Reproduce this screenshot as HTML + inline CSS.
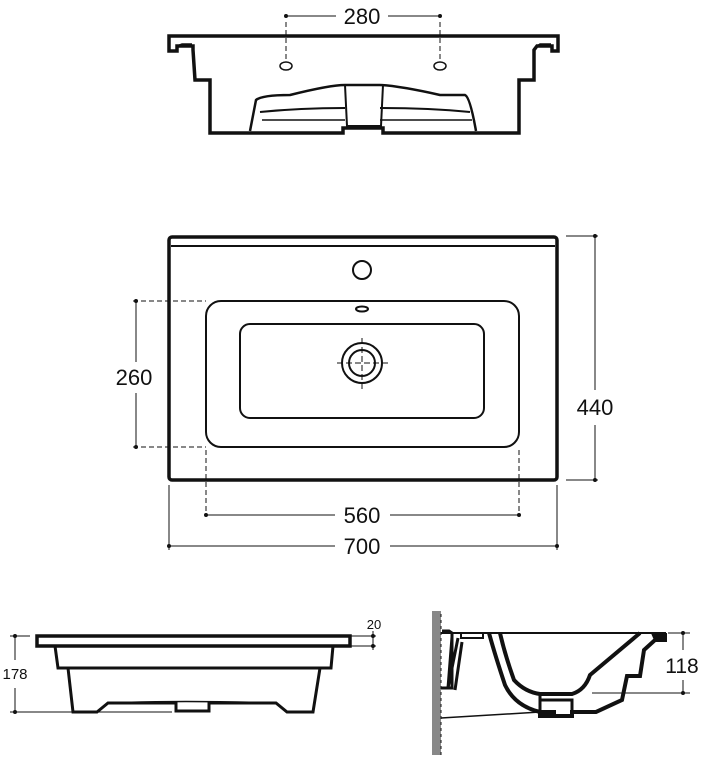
<!DOCTYPE html>
<html><head><style>
body{margin:0;background:#fff;}
svg{display:block;}
text{font-family:"Liberation Sans",Arial,sans-serif;fill:#111;}
</style></head><body>
<svg width="702" height="758" viewBox="0 0 702 758" xmlns="http://www.w3.org/2000/svg">
<g fill="none" stroke="#111">
<!-- TOP VIEW (elevation) -->
<path d="M169,36 H558 V51 H552 V46 H537 L534,50 V80 H519 V133 H383 V128 H343 V133 H210 V80 H195 L193,50 V46 H177 V51 H169 Z" stroke-width="3.5" stroke-linejoin="miter"/>
<path d="M193,46 H176 M177,46 L182,44 H192" stroke-width="1.5"/>
<path d="M537,46 L540,44 H551" stroke-width="1.5"/>
<path d="M250,131 L256,100 Q262,95 290,95 Q330,85 345,85 H380 Q400,86 440,95 H465 Q470,97 476,131" stroke-width="2.5"/>
<path d="M260,112 Q300,108 345,108 M380,108 Q430,108 470,112" stroke-width="2"/>
<path d="M262,120 H345 M380,120 H472" stroke-width="1.5"/>
<path d="M345,85 L347,126 H381 L383,85" stroke-width="2"/>
<ellipse cx="286" cy="66" rx="6" ry="4" stroke-width="1.5"/>
<ellipse cx="440" cy="66" rx="6" ry="4" stroke-width="1.5"/>
<path d="M286,22 V60 M440,22 V60" stroke-width="1" stroke-dasharray="5,3"/>
<path d="M286,16 H336 M388,16 H440" stroke-width="1"/>
<!-- PLAN -->
<rect x="169" y="237" width="388" height="243" rx="3" stroke-width="3.5"/>
<line x1="171" y1="246" x2="555" y2="246" stroke-width="2"/>
<circle cx="362" cy="270" r="9" stroke-width="2"/>
<rect x="206" y="301" width="313" height="146" rx="15" stroke-width="2"/>
<rect x="240" y="324" width="244" height="94" rx="10" stroke-width="2"/>
<ellipse cx="362" cy="309" rx="6" ry="2.5" stroke-width="2"/>
<circle cx="362" cy="363" r="20" stroke-width="2"/>
<circle cx="362" cy="363" r="13" stroke-width="2"/>
<path d="M337,363 H388 M362,338 V389" stroke-width="1" stroke-dasharray="6,3"/>
<path d="M133,301 H206 M133,447 H206" stroke-width="1" stroke-dasharray="5,3"/>
<path d="M206,450 V515 M519,450 V515" stroke-width="1" stroke-dasharray="5,3"/>
<path d="M136,301 V362 M136,393 V447" stroke-width="1"/>
<path d="M566,236 H598 M566,480 H598 M595,236 V390 M595,425 V480" stroke-width="1"/>
<path d="M206,515 H335 M390,515 H519" stroke-width="1"/>
<path d="M169,485 V550 M557,485 V550 M169,546 H335 M390,546 H557" stroke-width="1"/>
<!-- SIDE VIEW -->
<path d="M37,636 H350 V646 H37 Z" stroke-width="3.5"/>
<path d="M55,646 L58,668 H331 L333,646" stroke-width="3"/>
<path d="M68,668 L73,712 H97 L108,703 H176 V711 H209 V703 H276 L287,712 H313 L320,668" stroke-width="3"/>
<path d="M108,703 Q180,700 276,703" stroke-width="1.5"/>
<path d="M10,636 H30 M10,712 H172 M15,636 V660 M15,688 V712" stroke-width="1"/>
<path d="M350,636 H376 M350,646 H376 M373,631 V650" stroke-width="1"/>
<!-- SECTION VIEW -->
<rect x="432" y="611" width="9" height="144" fill="#888" stroke="none"/>
<path d="M441,633 H665" stroke-width="2"/>
<path d="M442,631 H449 L452,633 V688 H441 M452,637 L448,688" stroke-width="3"/>
<path d="M458,638 L448,688 M462,642 L455,690" stroke-width="3"/>
<path d="M461,633 H483 V638 H461 Z" stroke-width="2"/>
<path d="M489,633 Q495,655 505,685 Q515,706 540,712 H556 M500,633 Q505,655 514,680 Q525,692 540,694 H572 Q585,690 590,675 L640,633" stroke-width="4"/>
<path d="M540,712 V716 H572 V712 H596 L622,700 L627,676 H640 L644,650 L655,640 H665 V633" stroke-width="4"/>
<path d="M540,700 H572 V716 M540,694 V716" stroke-width="3"/>
<path d="M652,633 H665 V640 H655 Z" fill="#111" stroke-width="2"/>
<path d="M441,718 L540,712" stroke-width="1.5"/>
<path d="M441,755 V611" stroke-width="1" stroke-dasharray="3,3"/>
<path d="M668,633 H690 M592,693 H690 M683,633 V650 M683,680 V693" stroke-width="1"/>
</g>
<g fill="#111">
<circle cx="286" cy="16" r="2"/><circle cx="440" cy="16" r="2"/>
<circle cx="136" cy="301" r="2"/><circle cx="136" cy="447" r="2"/>
<circle cx="595" cy="236" r="2"/><circle cx="595" cy="480" r="2"/>
<circle cx="206" cy="515" r="2"/><circle cx="519" cy="515" r="2"/>
<circle cx="169" cy="546" r="2"/><circle cx="557" cy="546" r="2"/>
<circle cx="15" cy="636" r="2"/><circle cx="15" cy="712" r="2"/>
<circle cx="373" cy="636" r="2"/><circle cx="373" cy="646" r="2"/>
<circle cx="683" cy="633" r="2"/><circle cx="683" cy="693" r="2"/>
</g>
<text x="362" y="24" font-size="22" text-anchor="middle">280</text>
<text x="134" y="385" font-size="22" text-anchor="middle">260</text>
<text x="595" y="415" font-size="22" text-anchor="middle">440</text>
<text x="362" y="523" font-size="22" text-anchor="middle">560</text>
<text x="362" y="554" font-size="22" text-anchor="middle">700</text>
<text x="15" y="679" font-size="15" text-anchor="middle">178</text>
<text x="374" y="629" font-size="13" text-anchor="middle">20</text>
<text x="682" y="673" font-size="21" text-anchor="middle">118</text>
</svg>
</body></html>
